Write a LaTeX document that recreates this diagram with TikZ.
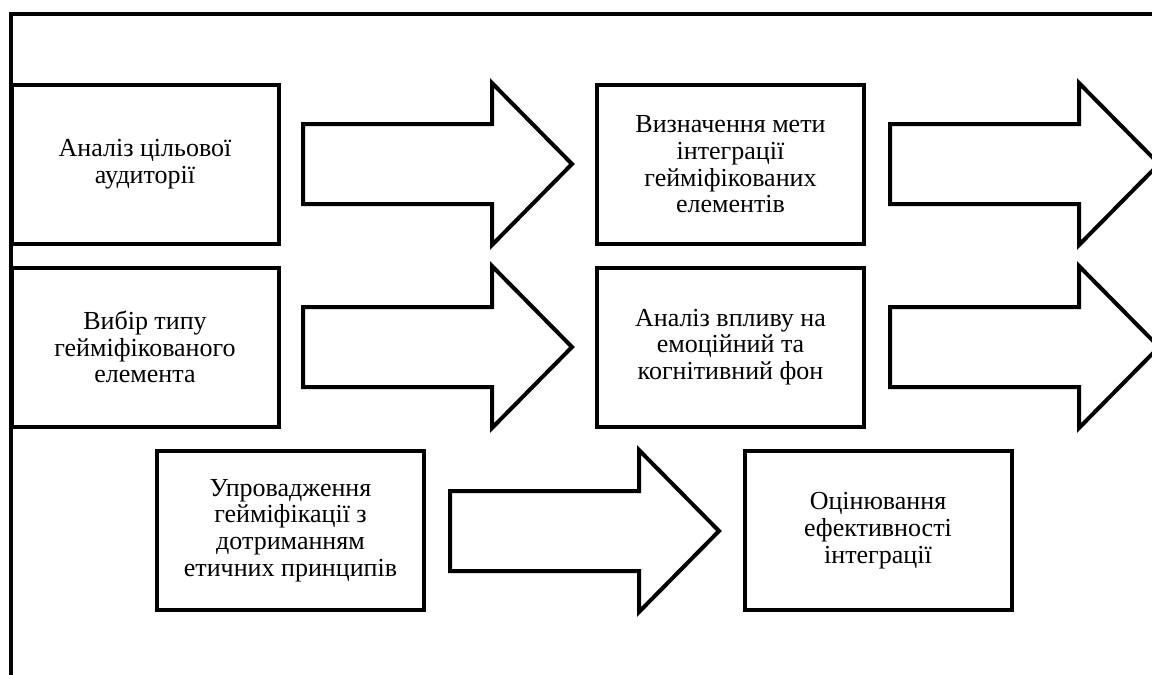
\documentclass[tikz,border=0pt]{standalone}
\usepackage{fontspec}
\setmainfont{Liberation Serif}
\begin{document}
\begin{tikzpicture}[x=1pt,y=-1pt,
  stepbox/.style={draw=black, line width=4pt, fill=white, rectangle,
    minimum width=267pt, minimum height=159pt, inner sep=0pt,
    align=center, font=\fontsize{26}{26.7}\selectfont},
  blockline/.style={draw=black, line width=4pt, fill=white, line join=miter},
  frameline/.style={draw=black, line width=4.5pt, line join=miter},
  pics/barrow/.style={code={
    \draw[blockline] (0,-40) -- (189,-40) -- (189,-81) -- (269,0) -- (189,81) -- (189,40) -- (0,40) -- cycle;
  }}]
\clip (0,0) rectangle (1152,675);
\fill[white] (0,0) rectangle (1152,675);
% frame
\draw[frameline] (11,690) -- (11,14) -- (1170,14);
% boxes
\node[stepbox] (b1) at (145,164.5) {Аналіз цільової\\аудиторії};
\node[stepbox] (b2) at (145,347) {Вибір типу\\гейміфікованого\\елемента};
\node[stepbox] (b3) at (730.5,164.5) {Визначення мети\\інтеграції\\гейміфікованих\\елементів};
\node[stepbox] (b4) at (730.5,347) {Аналіз впливу на\\емоційний та\\когнітивний фон};
\node[stepbox] (b5) at (290.5,530.5) {Упровадження\\гейміфікації з\\дотриманням\\етичних принципів};
\node[stepbox] (b6) at (878,530.5) {Оцінювання\\ефективності\\інтеграції};
% block arrows
\pic at (303,164) {barrow};
\pic at (890,164) {barrow};
\pic at (303,347) {barrow};
\pic at (890,347) {barrow};
\pic at (450,531) {barrow};
\end{tikzpicture}
\end{document}
